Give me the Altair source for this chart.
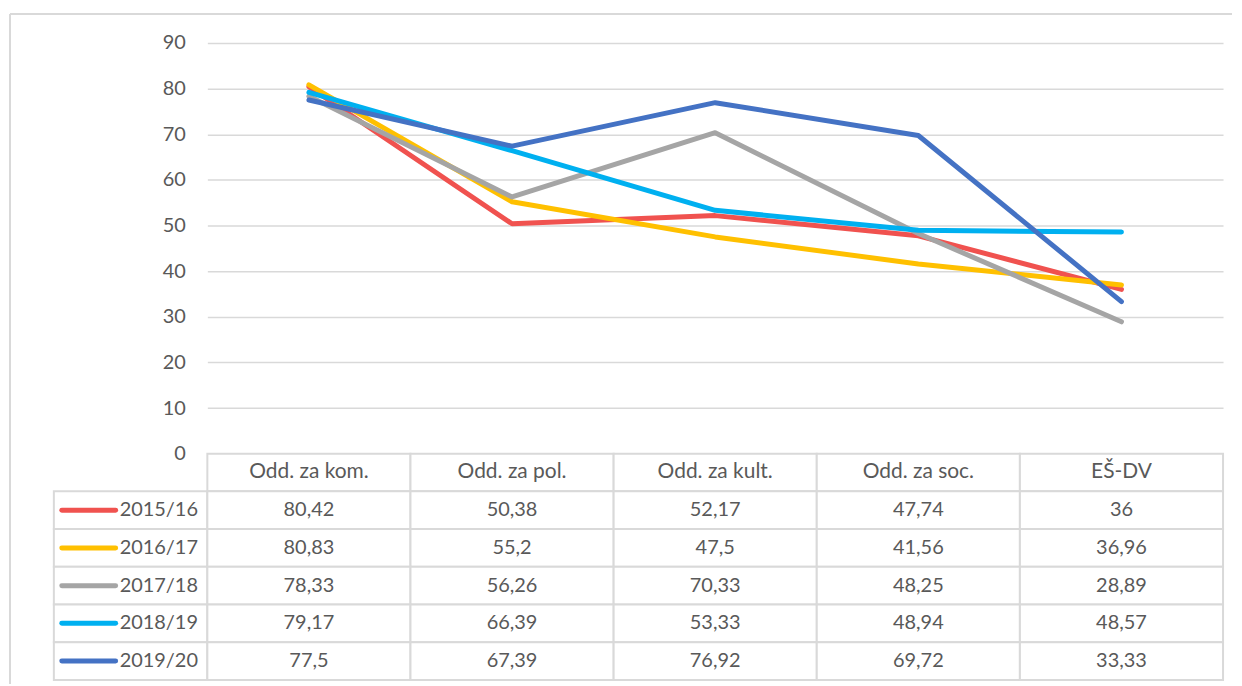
import altair as alt
import pandas as pd

categories = ["Odd. za kom.", "Odd. za pol.", "Odd. za kult.", "Odd. za soc.", "EŠ-DV"]
years = ["2015/16", "2016/17", "2017/18", "2018/19", "2019/20"]
v2015 = [80.42, 50.38, 52.17, 47.74, 36]
v2016 = [80.83, 55.2, 47.5, 41.56, 36.96]
v2017 = [78.33, 56.26, 70.33, 48.25, 28.89]
v2018 = [79.17, 66.39, 53.33, 48.94, 48.57]
v2019 = [77.5, 67.39, 76.92, 69.72, 33.33]
colors = ["#F0524F", "#FFC000", "#A5A5A5", "#00B0F0", "#4472C4"]
y_ticks = [0, 10, 20, 30, 40, 50, 60, 70, 80, 90]

series = [v2015, v2016, v2017, v2018, v2019]
rows = []
for yr, vals in zip(years, series):
    for cat, v in zip(categories, vals):
        rows.append({"year": yr, "cat": cat, "value": v,
                     "label": f"{v:g}".replace(".", ",")})
df = pd.DataFrame(rows)

FONT = "Lato"
TXT = "#595959"
GRID = "#D9D9D9"
row_order = ["header"] + years

color_scale = alt.Scale(domain=years, range=colors)

line = alt.Chart(df).mark_line(strokeWidth=5, strokeCap="round", strokeJoin="round").encode(
    x=alt.X("cat:N", sort=categories, scale=alt.Scale(type="point", padding=0.5), axis=None),
    y=alt.Y("value:Q", scale=alt.Scale(domain=[0, 90]),
            axis=alt.Axis(values=y_ticks, title=None, domain=False, ticks=False,
                          labelPadding=22, labelFontSize=20, labelFont=FONT,
                          labelColor=TXT, gridColor=GRID, gridWidth=1.5)),
    color=alt.Color("year:N", scale=color_scale, legend=None),
    order=alt.Order("year:N"),
).properties(width=1019, height=412)

# empty top-left cell, carrying the outer frame of the chart
one = pd.DataFrame({"a": [0]})
frame_top = alt.Chart(one).mark_rule(color=GRID, strokeWidth=2).encode(
    x=alt.value(-44), x2=alt.value(1182), y=alt.value(-29))
frame_left = alt.Chart(one).mark_rule(color=GRID, strokeWidth=2).encode(
    x=alt.value(-44), y=alt.value(-29), y2=alt.value(643))
spacer = alt.layer(frame_top, frame_left).properties(width=154, height=412)

# table body
hdr = pd.DataFrame({"cat": categories, "row": ["header"] * len(categories), "label": categories})
body = df.rename(columns={"year": "row"})[["cat", "row", "label"]]

tx = alt.X("cat:N", sort=categories, scale=alt.Scale(type="band", paddingInner=0, paddingOuter=0), axis=None)
ty = alt.Y("row:N", sort=row_order, scale=alt.Scale(domain=row_order, paddingInner=0, paddingOuter=0), axis=None)

cells = pd.concat([hdr, body], ignore_index=True)
tbl_rect = alt.Chart(cells).mark_rect(fill="white", stroke=GRID, strokeWidth=2).encode(x=tx, y=ty)
hdr_text = alt.Chart(hdr).mark_text(font=FONT, fontSize=21, color=TXT).encode(x=tx, y=ty, text="label:N")
body_text = alt.Chart(body).mark_text(font=FONT, fontSize=20, color=TXT).encode(x=tx, y=ty, text="label:N")
table = alt.layer(tbl_rect, hdr_text, body_text).properties(width=1019, height=227)

# legend column
leg_df = pd.DataFrame({"row": years})
ly = alt.Y("row:N", sort=row_order, scale=alt.Scale(domain=row_order, paddingInner=0, paddingOuter=0), axis=None)
leg_rect = alt.Chart(leg_df).mark_rect(fill="white", stroke=GRID, strokeWidth=2).encode(y=ly)
leg_sym = alt.Chart(leg_df).mark_rule(strokeWidth=5, strokeCap="round").encode(
    y=ly, x=alt.value(8), x2=alt.value(62),
    color=alt.Color("row:N", scale=color_scale, legend=None))
leg_txt = alt.Chart(leg_df).mark_text(font=FONT, fontSize=20, color=TXT, align="left").encode(
    y=ly, x=alt.value(66), text="row:N")
legend_col = alt.layer(leg_rect, leg_sym, leg_txt).properties(width=154, height=227)

chart = alt.concat(spacer, line, legend_col, table, columns=2, spacing=0, bounds="flush").properties(
    padding={"left": 0, "top": 3, "right": 0, "bottom": 0},
    background="white",
).configure_view(stroke="transparent")

chart.save("out.html", embed_options={"renderer": "svg", "actions": False})
